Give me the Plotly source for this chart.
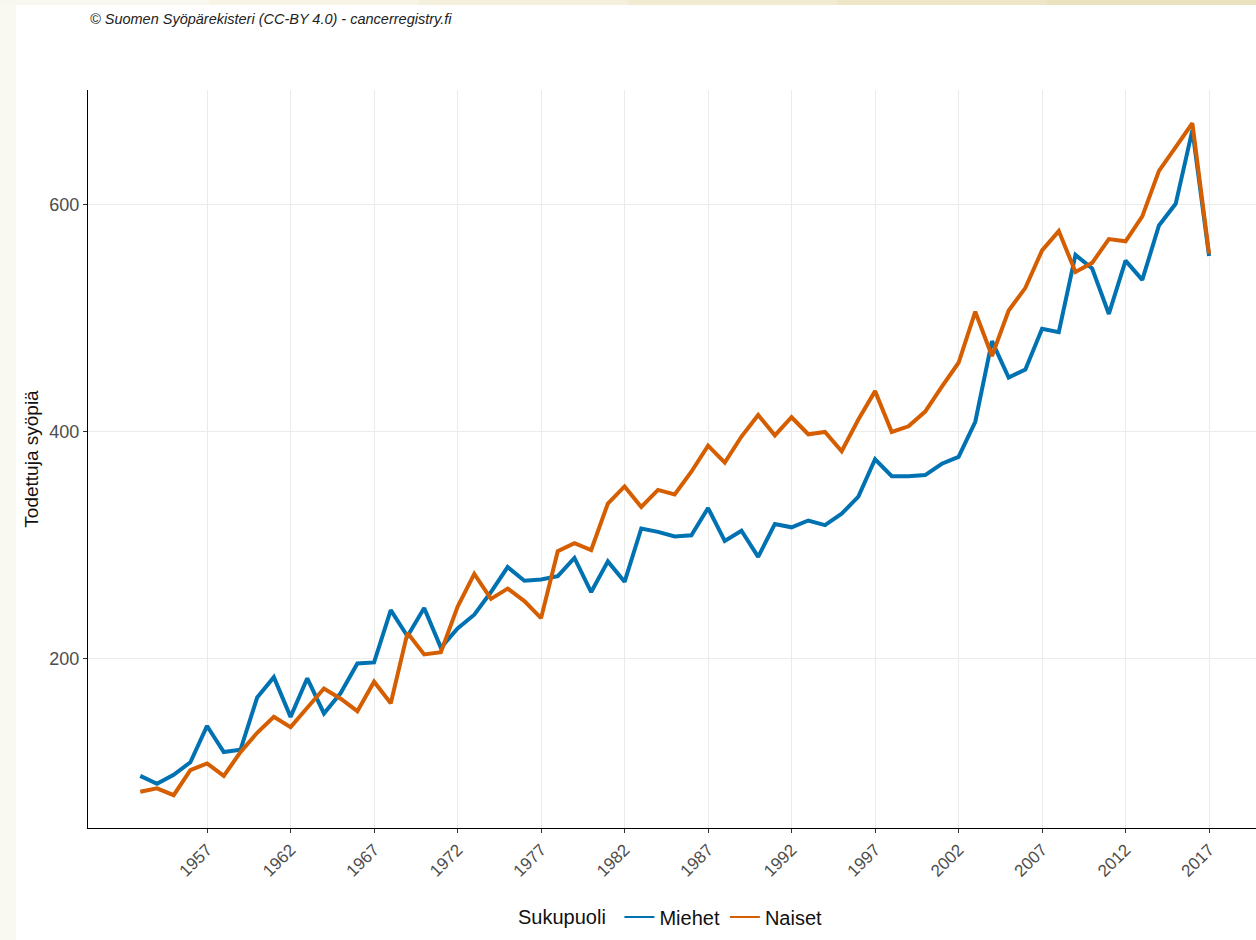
import plotly.graph_objects as go

years = list(range(1953, 2018))

miehet = [97, 90, 98, 109, 141, 118, 120, 166, 184, 149,
          183, 152, 170, 196, 197, 243, 220, 245, 210, 227,
          239, 259, 281, 269, 270, 273, 289, 259, 286, 268,
          315, 312, 308, 309, 333, 304, 313, 290, 319, 316,
          322, 318, 328, 343, 376, 361, 361, 362, 372, 378,
          409, 480, 448, 455, 491, 488, 556, 544, 504, 551,
          534, 582, 601, 666, 555]

naiset = [83, 86, 80, 102, 108, 97, 118, 135, 149, 140,
          157, 174, 165, 154, 180, 161, 223, 204, 206, 246,
          275, 253, 262, 251, 236, 295, 302, 296, 337, 352,
          334, 349, 345, 365, 388, 373, 396, 415, 397, 413,
          398, 400, 383, 411, 436, 400, 405, 418, 440, 461,
          506, 467, 507, 527, 560, 577, 541, 549, 570, 568,
          590, 630, 651, 672, 557]

series_names = ["Miehet", "Naiset"]
series_colors = ["#0072B2", "#D55E00"]

x_ticks = list(range(1957, 2018, 5))
y_ticks = [200, 400, 600]

FONT = "Liberation Sans, Arial, sans-serif"

fig = go.Figure()
for name, vals, col in zip(series_names, [miehet, naiset], series_colors):
    fig.add_trace(go.Scatter(x=years, y=vals, mode="lines", name=name,
                             line=dict(color=col, width=4), showlegend=False))
# legend entries with thinner key lines, as in the reference
for name, col in zip(series_names, series_colors):
    fig.add_trace(go.Scatter(x=[None], y=[None], mode="lines", name=name,
                             line=dict(color=col, width=2), showlegend=True))

W, H = 1256, 940
L, R, T, B = 88, 0, 90, 112
PW, PH = W - L - R, H - T - B

fig.update_layout(
    width=W, height=H,
    margin=dict(l=L, r=R, t=T, b=B, pad=0),
    paper_bgcolor="white", plot_bgcolor="white",
    font=dict(family=FONT, color="#222"),
    showlegend=True,
    legend=dict(orientation="h", x=0.5, xanchor="center", y=-(917 - (H - B)) / PH, yanchor="middle",
                font=dict(size=20, color="#111"),
                title=dict(text="Sukupuoli ", font=dict(size=20, color="#111"), side="left"),
                itemwidth=30, bgcolor="rgba(0,0,0,0)"),
    xaxis=dict(range=[1949.87, 2019.81], tickvals=x_ticks, ticktext=[str(v) for v in x_ticks],
               tickangle=-45, tickfont=dict(size=17, color="#4d4d4d"),
               showgrid=True, gridcolor="#ebebeb", gridwidth=1,
               showline=True, linecolor="black", linewidth=1.2, mirror=False,
               ticks="outside", ticklen=4, tickcolor="#333", zeroline=False),
    yaxis=dict(range=[51.1, 701.3], tickvals=y_ticks,
               tickfont=dict(size=18, color="#4d4d4d"),
               title=dict(text="Todettuja syöpiä", font=dict(size=19, color="#111"), standoff=5),
               showgrid=True, gridcolor="#ebebeb", gridwidth=1,
               showline=True, linecolor="black", linewidth=1.2, mirror=False,
               ticks="outside", ticklen=4, tickcolor="#333", zeroline=False),
    annotations=[dict(text="<i>© Suomen Syöpärekisteri (CC-BY 4.0) - cancerregistry.fi</i>",
                      xref="paper", yref="paper", x=0, y=1 + (T - 19) / PH,
                      xanchor="left", yanchor="middle", showarrow=False,
                      font=dict(size=14.5, color="#222", family=FONT))],
)

# page background strips (left and top)
shapes = [dict(type="rect", xref="paper", yref="paper",
               x0=-L / PW, x1=-(L - 16) / PW,
               y0=-B / PH, y1=1 + T / PH,
               fillcolor="#f9f9f1", line=dict(width=0), layer="below")]
top_cols = ["#f9f8f0", "#f7f4e6", "#f4f0dc", "#f1ebd1", "#eee6c7", "#ebe3c0"]
n = len(top_cols)
for i, c in enumerate(top_cols):
    px0 = i * W / n
    px1 = (i + 1) * W / n + 1
    shapes.append(dict(type="rect", xref="paper", yref="paper",
                       x0=(px0 - L) / PW, x1=(px1 - L) / PW,
                       y0=1 + (T - 5) / PH, y1=1 + T / PH,
                       fillcolor=c, line=dict(width=0), layer="below"))
fig.update_layout(shapes=shapes)

fig.write_html("out.html", config={"displayModeBar": False},
               post_script="document.body.style.margin='0px';")
